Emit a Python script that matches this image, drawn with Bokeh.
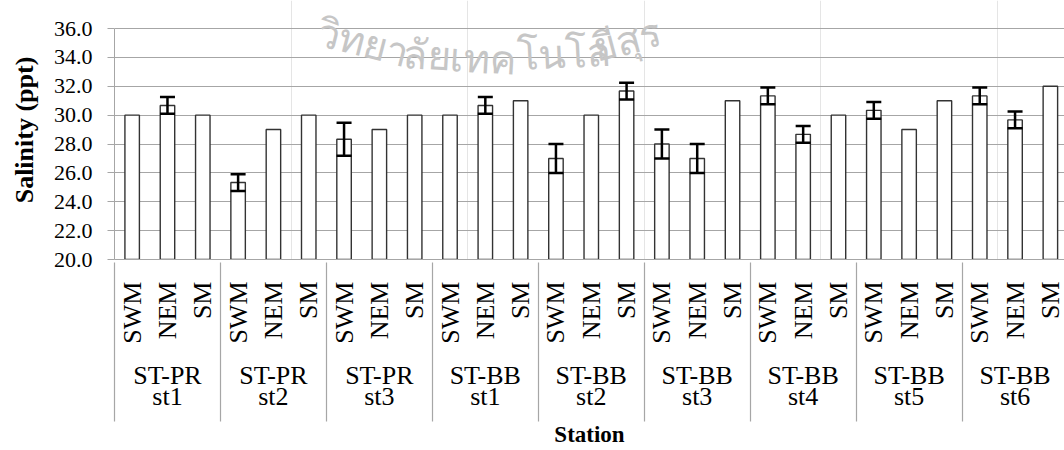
import math
from bokeh.plotting import figure
from bokeh.models import (Range1d, LinearAxis, FixedTicker, Whisker, ColumnDataSource,
                          PrintfTickFormatter, TeeHead, Label, Grid)
from bokeh.embed import file_html
from bokeh.resources import INLINE

# ---------------- data ----------------
stations = ["ST-PR\nst1", "ST-PR\nst2", "ST-PR\nst3", "ST-BB\nst1", "ST-BB\nst2",
            "ST-BB\nst3", "ST-BB\nst4", "ST-BB\nst5", "ST-BB\nst6"]
seasons = ["SWM", "NEM", "SM"]
salinity = [30.0, 30.67, 30.0,
            25.33, 29.0, 30.0,
            28.33, 29.0, 30.0,
            30.0, 30.67, 31.0,
            27.0, 30.0, 31.67,
            28.0, 27.0, 31.0,
            31.33, 28.67, 30.0,
            30.33, 29.0, 31.0,
            31.33, 29.67, 32.0]
sd = [0.0, 0.58, 0.0,
      0.58, 0.0, 0.0,
      1.15, 0.0, 0.0,
      0.0, 0.58, 0.0,
      1.0, 0.0, 0.58,
      1.0, 1.0, 0.0,
      0.58, 0.58, 0.0,
      0.58, 0.0, 0.0,
      0.58, 0.58, 0.0]
y_ticks = [20, 22, 24, 26, 28, 30, 32, 34, 36]
watermark = ["วิทยา", "ลัยเทค", "โนโล", "ยีสุร"]

# ---------------- layout constants ----------------
TOP_PAD = 28                     # px of empty frame above the 36.0 line (room for the watermark)
PLOT_H = 231                     # px between 20.0 and 36.0
FRAME_W = 950
X_END = 26.9
Y0, Y1 = y_ticks[0], y_ticks[-1]
PX_Y = (Y1 - Y0) / PLOT_H
PX_X = X_END / FRAME_W

# ---------------- derived positions ----------------
n_s = len(seasons)
n = len(stations) * n_s
xs = [i + 0.5 for i in range(n)]
season_labels = [seasons[i % n_s] for i in range(n)]
group_centers = [g * n_s + n_s / 2 for g in range(len(stations))]
boundaries = [g * n_s for g in range(len(stations) + 1)]

GRAY = "#a6a6a6"
SERIF = "Liberation Serif"

p = figure(width=1064, height=450, x_range=Range1d(0, X_END),
           y_range=Range1d(Y0, Y1 + TOP_PAD * PX_Y),
           output_backend="svg", toolbar_location=None,
           x_axis_location=None, y_axis_location=None,
           min_border_left=114, min_border_top=0, min_border_right=0, min_border_bottom=191)
p.outline_line_color = None
p.background_fill_color = "white"
p.border_fill_color = "white"

# y axis (line limited to the 20-36 span)
yaxis = LinearAxis(ticker=FixedTicker(ticks=y_ticks), formatter=PrintfTickFormatter(format="%.1f"),
                   axis_label="Salinity (ppt)", bounds=(Y0, Y1))
yaxis.axis_line_color = GRAY
yaxis.major_tick_line_color = GRAY
yaxis.major_tick_out = 7
yaxis.major_tick_in = 0
yaxis.minor_tick_line_color = None
yaxis.major_label_text_font = SERIF
yaxis.major_label_text_font_size = "22px"
yaxis.major_label_text_color = "black"
yaxis.major_label_standoff = 15
yaxis.axis_label_text_font = SERIF
yaxis.axis_label_text_font_style = "bold"
yaxis.axis_label_text_font_size = "26px"
yaxis.axis_label_text_color = "black"
yaxis.axis_label_standoff = 12
p.add_layout(yaxis, "left")

p.add_layout(Grid(dimension=1, ticker=yaxis.ticker, grid_line_color=GRAY, grid_line_width=1.2))

# season axis (labels read upwards)
xaxis1 = LinearAxis(ticker=FixedTicker(ticks=xs, minor_ticks=[]),
                    major_label_overrides={x: s for x, s in zip(xs, season_labels)})
xaxis1.major_label_orientation = math.pi / 2
xaxis1.axis_line_color = GRAY
xaxis1.major_tick_out = 0
xaxis1.major_tick_in = 0
xaxis1.major_tick_line_color = None
xaxis1.minor_tick_line_color = None
xaxis1.major_label_text_font = SERIF
xaxis1.major_label_text_font_size = "26px"
xaxis1.major_label_text_color = "black"
xaxis1.major_label_standoff = 22
p.add_layout(xaxis1, "below")

# station axis
xaxis2 = LinearAxis(ticker=FixedTicker(ticks=group_centers, minor_ticks=[]),
                    major_label_overrides={x: s for x, s in zip(group_centers, stations)})
xaxis2.axis_line_color = None
xaxis2.major_tick_out = 0
xaxis2.major_tick_in = 0
xaxis2.major_tick_line_color = None
xaxis2.minor_tick_line_color = None
xaxis2.major_label_text_font = SERIF
xaxis2.major_label_text_font_size = "26px"
xaxis2.major_label_text_line_height = 0.75
xaxis2.major_label_text_color = "black"
xaxis2.major_label_standoff = 14
p.add_layout(xaxis2, "below")

# outer axis: group separators drawn as minor ticks reaching up to the frame, plus the title
xaxis3 = LinearAxis(ticker=FixedTicker(ticks=[], minor_ticks=boundaries), axis_label="Station")
xaxis3.axis_line_color = None
xaxis3.major_tick_line_color = None
xaxis3.major_tick_out = 0
xaxis3.major_tick_in = 0
xaxis3.minor_tick_out = 7
xaxis3.minor_tick_in = 152
xaxis3.minor_tick_line_color = GRAY
xaxis3.minor_tick_line_width = 1.2
xaxis3.major_label_text_font_size = "1px"
xaxis3.major_label_standoff = 0
xaxis3.axis_label_text_font = SERIF
xaxis3.axis_label_text_font_style = "bold"
xaxis3.axis_label_text_font_size = "23px"
xaxis3.axis_label_text_color = "black"
xaxis3.axis_label_standoff = 0
p.add_layout(xaxis3, "below")

# bars
src = ColumnDataSource(dict(x=xs, top=salinity, season=season_labels))
p.vbar(x="x", top="top", bottom=Y0, width=0.41, source=src,
       fill_color="white", line_color="#333333", line_width=1.4)

# error bars (only where a deviation was shown)
ex = [x for x, e in zip(xs, sd) if e > 0]
eu = [v + e for v, e in zip(salinity, sd) if e > 0]
el = [v - e for v, e in zip(salinity, sd) if e > 0]
esrc = ColumnDataSource(dict(x=ex, upper=eu, lower=el))
w = Whisker(base="x", upper="upper", lower="lower", source=esrc, level="overlay",
            line_color="black", line_width=2.5,
            upper_head=TeeHead(size=15, line_color="black", line_width=2.5),
            lower_head=TeeHead(size=15, line_color="black", line_width=2.5))
p.add_layout(w)

# watermark (screen-pixel placement converted to data space)
def dx(px):
    return (px - 114) * PX_X

def dy(py):
    return Y1 - (py - TOP_PAD) * PX_Y

wm_pos = [(318, 29, -0.25), (402, 52, -0.06), (517, 54, 0.05), (593, 47, 0.26)]
for txt, (px, py, ang) in zip(watermark, wm_pos):
    p.add_layout(Label(x=dx(px), y=dy(py), text=txt, angle=ang,
                       text_font="Noto Sans", text_font_size="40px",
                       text_color="#c6c6c6", text_baseline="alphabetic", level="underlay"))

open("out.html", "w").write(file_html(p, INLINE))
